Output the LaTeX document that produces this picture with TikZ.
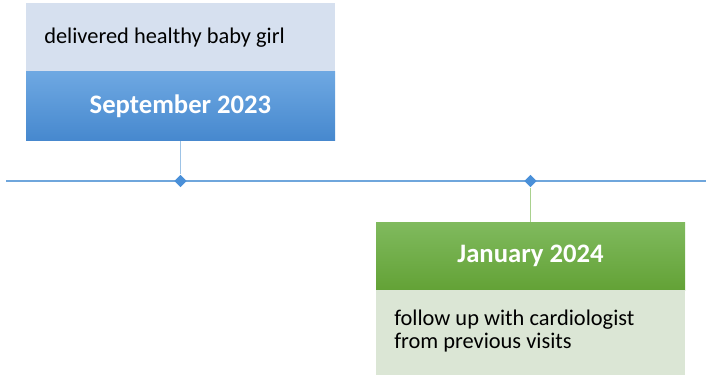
\documentclass[tikz,border=0pt]{standalone}
\usepackage{fontspec}
\setmainfont{Carlito}
\usetikzlibrary{shapes.geometric}
\definecolor{lblue}{HTML}{D6E0EF}
\definecolor{btop}{HTML}{6EA8E2}
\definecolor{bbot}{HTML}{4688CE}
\definecolor{gtop}{HTML}{80BA5E}
\definecolor{gbot}{HTML}{63A236}
\definecolor{lgreen}{HTML}{DBE6D5}
\definecolor{lineblue}{HTML}{6FA6DC}
\definecolor{conblue}{HTML}{9DC3E6}
\definecolor{congreen}{HTML}{A9D18E}
\definecolor{diablue}{HTML}{4A90D9}
\tikzset{
  descbox/.style={rectangle, draw=none, inner sep=0pt, minimum width=231.75pt},
  headbox/.style={rectangle, draw=none, inner sep=0pt, minimum width=231.75pt, minimum height=51.75pt,
    text=white, font=\fontsize{20}{24}\selectfont\bfseries},
  desctext/.style={anchor=west, align=left, inner sep=0pt, font=\fontsize{16.8}{17.5}\selectfont},
  marker/.style={diamond, fill=diablue, draw=none, inner sep=0pt, minimum size=9.5pt},
  conn/.style={line width=1.3pt},
}
\begin{document}
\begin{tikzpicture}[x=0.75pt,y=-0.75pt]
\useasboundingbox (0,0) rectangle (710,381);
% timeline
\coordinate (tl) at (6,181);
\coordinate (tr) at (706,181);
\draw[line width=1.5pt, lineblue] (tl) -- (tr);
% top event
\node[descbox, fill=lblue, minimum height=51.75pt] (d1) at (180.5,37.5) {};
\node[headbox, top color=btop, bottom color=bbot] (h1) at (180.5,106.5) {September 2023};
\node[desctext] (t1) at (44,38) {delivered healthy baby girl};
\node[marker] (m1) at (180.5,181) {};
\draw[conn, conblue] (h1.south) -- (m1.north);
% bottom event
\node[headbox, top color=gtop, bottom color=gbot, minimum height=51pt] (h2) at (530.5,256) {January 2024};
\node[descbox, fill=lgreen, minimum height=63.75pt] (d2) at (530.5,332.5) {};
\node[desctext] (t2) at (394,331) {follow up with cardiologist\\from previous visits};
\node[marker] (m2) at (530.5,181) {};
\draw[conn, congreen] (m2.south) -- (h2.north);
\end{tikzpicture}
\end{document}
